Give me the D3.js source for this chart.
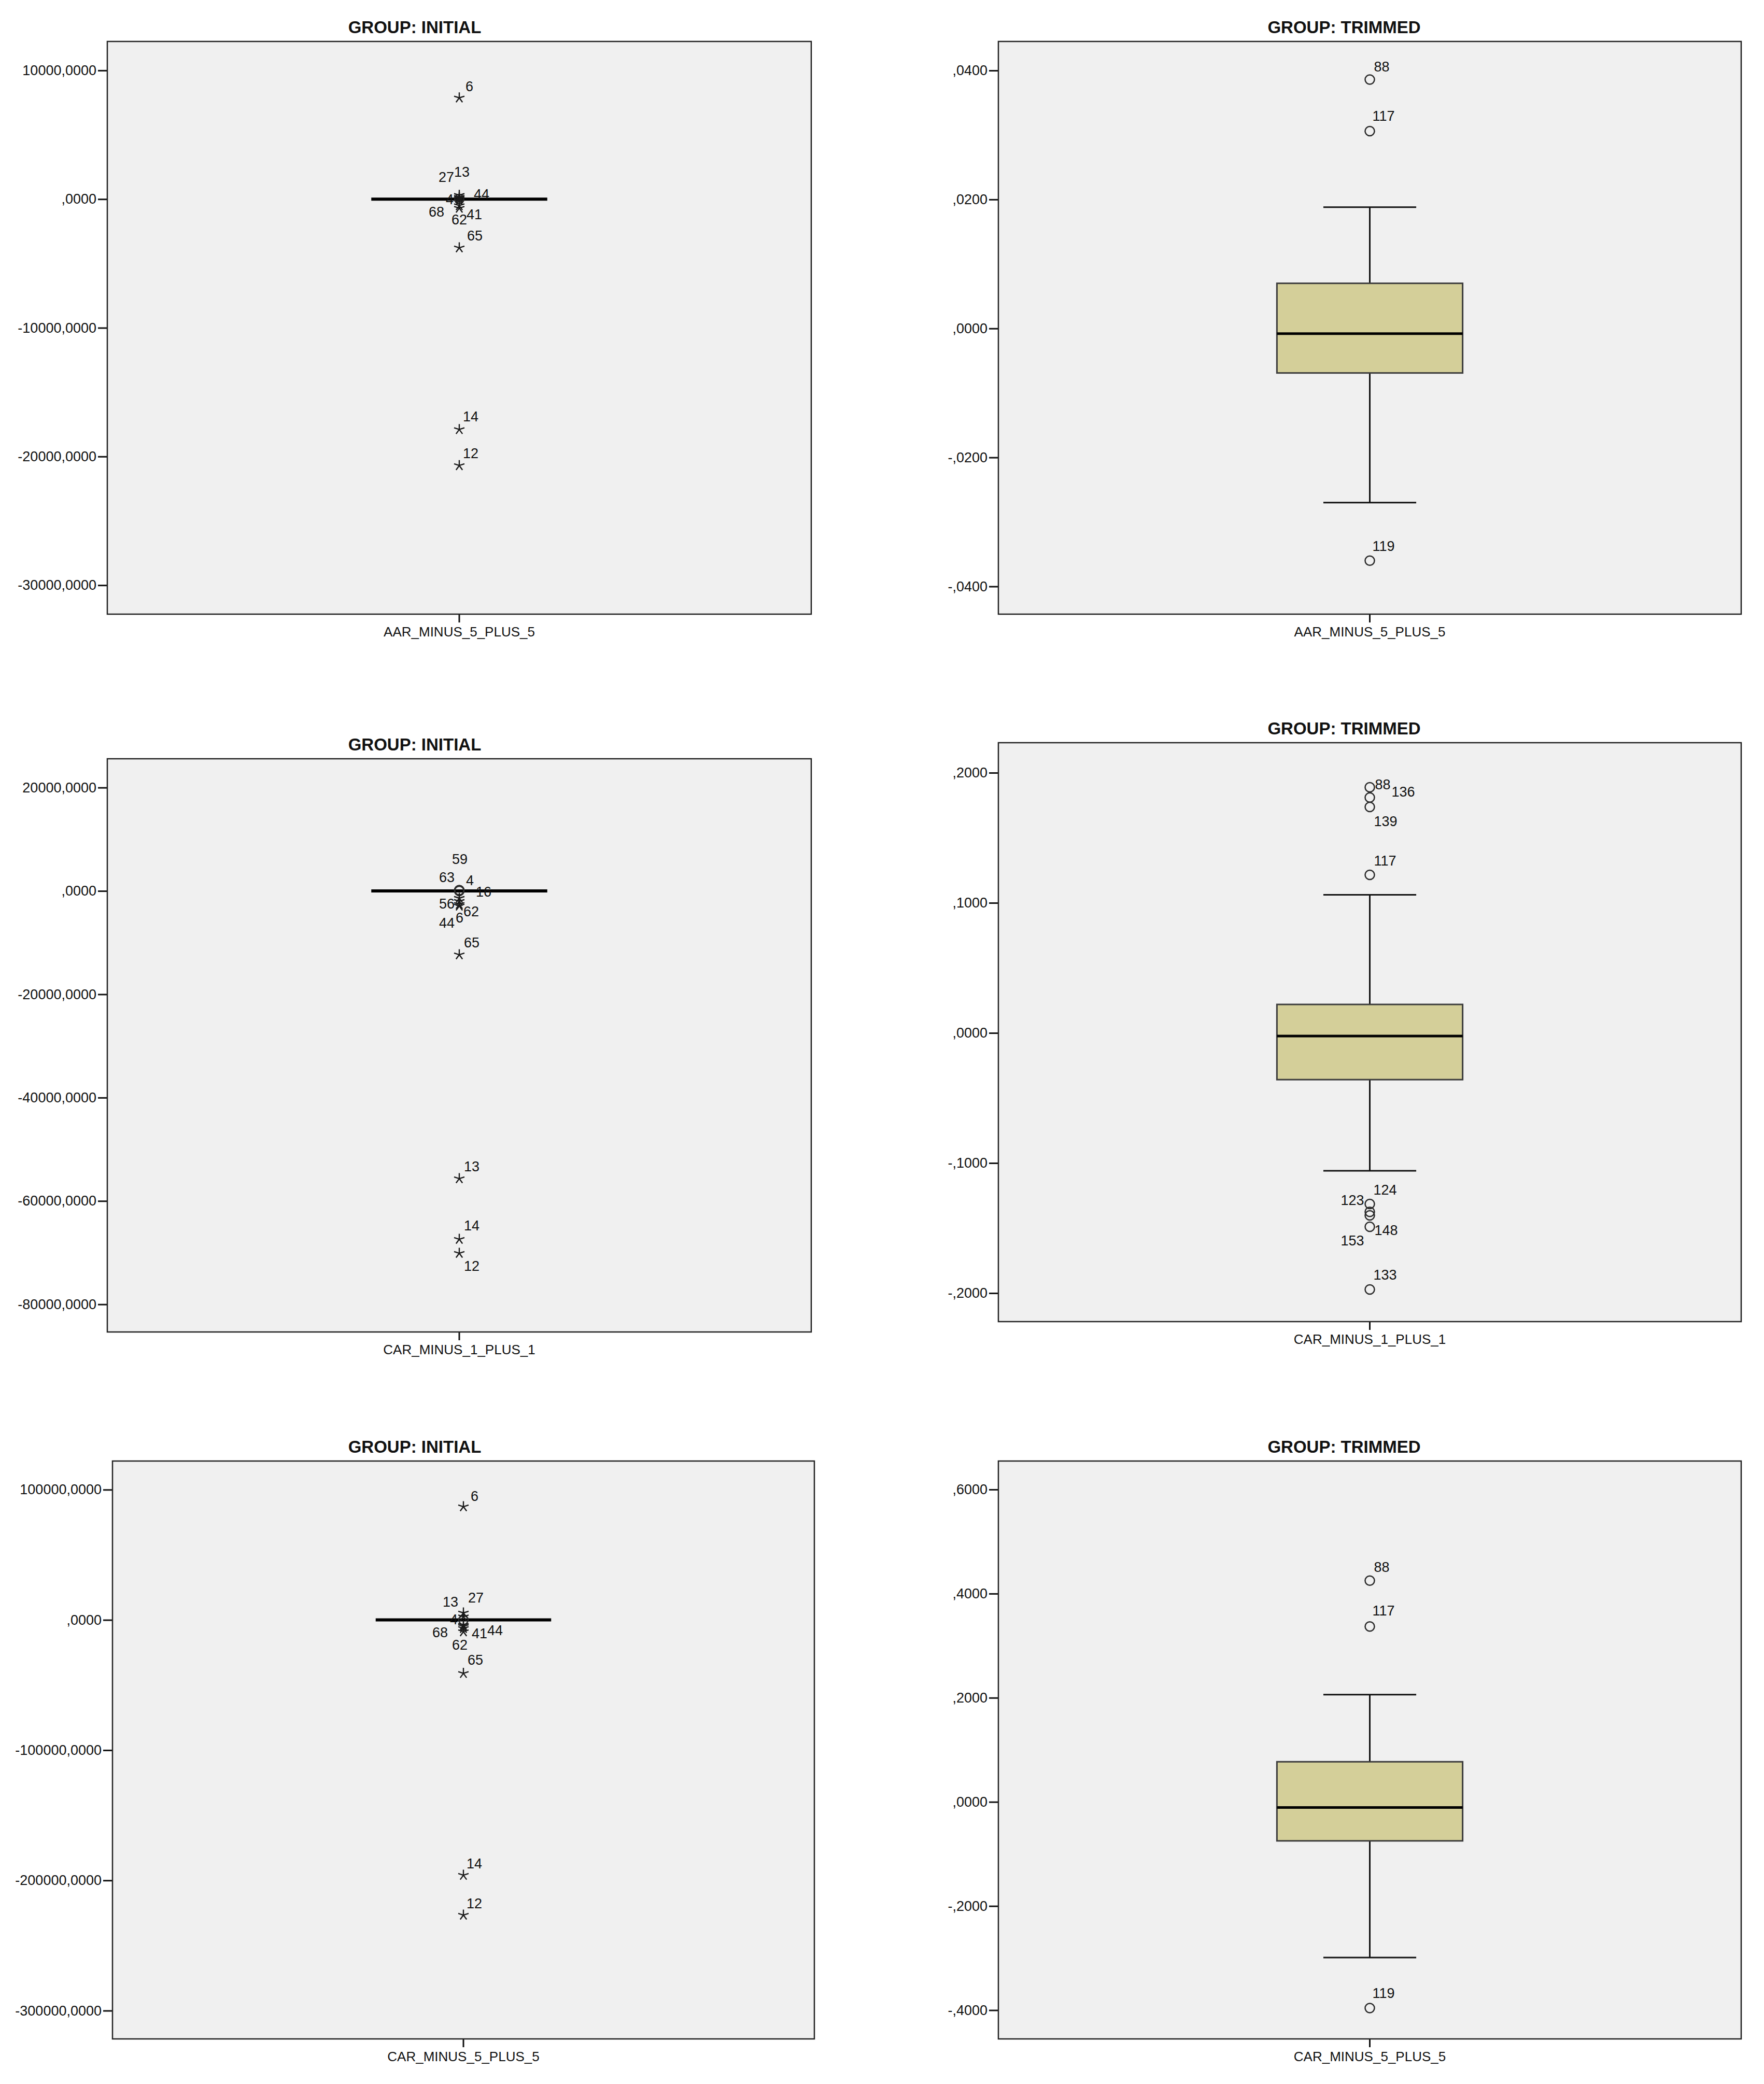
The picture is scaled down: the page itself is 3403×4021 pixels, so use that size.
<!DOCTYPE html>
<html><head><meta charset="utf-8">
<script src="https://cdn.jsdelivr.net/npm/d3@7"></script>
<style>
body{margin:0;background:#fff}
svg{display:block}
text{font-family:"Liberation Sans",Arial,sans-serif;fill:#111}
</style>
</head><body>
<svg id="chart" width="3403" height="4021"></svg>
<script>
// ---------------- data ----------------
const variables = ["AAR_MINUS_5_PLUS_5", "CAR_MINUS_1_PLUS_1", "CAR_MINUS_5_PLUS_5"];
const groupTitles = ["GROUP: INITIAL", "GROUP: TRIMMED"];

// box statistics: [lower whisker, Q1, median, Q3, upper whisker]
const aarInitialBox  = [0, 0, 0, 0, 0];
const aarTrimmedBox  = [-0.0270, -0.0069, -0.0008, 0.0070, 0.0188];
const car1InitialBox = [0, 0, 0, 0, 0];
const car1TrimmedBox = [-0.1060, -0.0359, -0.0024, 0.0219, 0.1062];
const car5InitialBox = [0, 0, 0, 0, 0];
const car5TrimmedBox = [-0.2988, -0.0748, -0.0107, 0.0771, 0.2060];

// outlying cases: case id, value, kind ("o" outlier, "*" extreme)
const aarInitialPts = [
  {id:"6", v:7870, k:"*"}, {id:"13", v:300, k:"*"}, {id:"27", v:150, k:"*"},
  {id:"44", v:60, k:"*"}, {id:"4", v:0, k:"o"}, {id:"68", v:-100, k:"*"},
  {id:"41", v:-500, k:"*"}, {id:"62", v:-700, k:"*"}, {id:"65", v:-3780, k:"*"},
  {id:"14", v:-17900, k:"*"}, {id:"12", v:-20700, k:"*"}
];
const aarTrimmedPts = [
  {id:"88", v:0.0386, k:"o"}, {id:"117", v:0.0306, k:"o"}, {id:"119", v:-0.0360, k:"o"}
];
const car1InitialPts = [
  {id:"59", v:150, k:"o"}, {id:"63", v:100, k:"o"}, {id:"4", v:50, k:"o"},
  {id:"16", v:0, k:"o"}, {id:"56", v:-1400, k:"*"}, {id:"62", v:-2000, k:"*"},
  {id:"6", v:-2600, k:"*"}, {id:"44", v:-2900, k:"*"}, {id:"65", v:-12340, k:"*"},
  {id:"13", v:-55670, k:"*"}, {id:"14", v:-67400, k:"*"}, {id:"12", v:-70110, k:"*"}
];
const car1TrimmedPts = [
  {id:"88", v:0.1888, k:"o"}, {id:"136", v:0.1810, k:"o"}, {id:"139", v:0.1737, k:"o"},
  {id:"117", v:0.1215, k:"o"}, {id:"124", v:-0.1315, k:"o"}, {id:"123", v:-0.1375, k:"o"},
  {id:"153", v:-0.1402, k:"o"}, {id:"148", v:-0.1490, k:"o"}, {id:"133", v:-0.1972, k:"o"}
];
const car5InitialPts = [
  {id:"6", v:86950, k:"*"}, {id:"27", v:5400, k:"*"}, {id:"13", v:2500, k:"*"},
  {id:"4", v:0, k:"o"}, {id:"68", v:-4000, k:"*"}, {id:"44", v:-5000, k:"*"},
  {id:"41", v:-6500, k:"*"}, {id:"62", v:-9000, k:"*"}, {id:"65", v:-41000, k:"*"},
  {id:"14", v:-196000, k:"*"}, {id:"12", v:-226600, k:"*"}
];
const car5TrimmedPts = [
  {id:"88", v:0.4250, k:"o"}, {id:"117", v:0.3370, k:"o"}, {id:"119", v:-0.3960, k:"o"}
];

// axis tick values and value ranges
const aarInitialTicks  = [10000, 0, -10000, -20000, -30000];
const aarTrimmedTicks  = [0.04, 0.02, 0, -0.02, -0.04];
const car1InitialTicks = [20000, 0, -20000, -40000, -60000, -80000];
const car1TrimmedTicks = [0.2, 0.1, 0, -0.1, -0.2];
const car5InitialTicks = [100000, 0, -100000, -200000, -300000];
const car5TrimmedTicks = [0.6, 0.4, 0.2, 0, -0.2, -0.4];

const aarInitialDomain  = [-32250, 12250];
const aarTrimmedDomain  = [-0.0443, 0.0445];
const car1InitialDomain = [-85350, 25580];
const car1TrimmedDomain = [-0.2219, 0.2231];
const car5InitialDomain = [-321700, 122000];
const car5TrimmedDomain = [-0.4552, 0.6547];

// ---------------- layout (label placement nudges, px: [start dx, centre dy]) ----------------
const defaultNudge = [8, -25];
const aarInitialNudge = {"6":[12,-22], "13":[-10,-45], "27":[-40,-39], "44":[28,-8], "4":[-26,0],
  "68":[-59,22], "41":[14,17], "62":[-15,22], "65":[15,-24], "14":[7,-25], "12":[7,-24]};
const aarTrimmedNudge = {"88":[8,-25], "117":[5,-30], "119":[5,-28]};
const car1InitialNudge = {"59":[-14,-60], "63":[-39,-26], "4":[13,-20], "16":[32,1], "56":[-39,10],
  "62":[8,19], "6":[-7,25], "44":[-39,32], "65":[9,-24], "13":[9,-24], "14":[9,-27], "12":[9,24]};
const car1TrimmedNudge = {"88":[10,-6], "136":[42,-11], "139":[8,27], "117":[8,-28], "124":[7,-28],
  "123":[-56,-23], "153":[-56,48], "148":[9,6], "133":[7,-29]};
const car5InitialNudge = {"6":[14,-21], "27":[9,-30], "13":[-40,-29], "4":[-26,-1], "68":[-60,14],
  "44":[46,7], "41":[16,9], "62":[-22,25], "65":[8,-26], "14":[6,-23], "12":[6,-23]};
const car5TrimmedNudge = {"88":[8,-26], "117":[5,-31], "119":[5,-29]};

const panels = [
  {g:0, v:0, box:aarInitialBox,  pts:aarInitialPts,  ticks:aarInitialTicks,  dom:aarInitialDomain,  nudge:aarInitialNudge,  x0:207,  x1:1565, y0:80,   y1:1185, tx:800},
  {g:1, v:0, box:aarTrimmedBox,  pts:aarTrimmedPts,  ticks:aarTrimmedTicks,  dom:aarTrimmedDomain,  nudge:aarTrimmedNudge,  x0:1926, x1:3359, y0:80,   y1:1185, tx:2593},
  {g:0, v:1, box:car1InitialBox, pts:car1InitialPts, ticks:car1InitialTicks, dom:car1InitialDomain, nudge:car1InitialNudge, x0:207,  x1:1565, y0:1464, y1:2570, tx:800},
  {g:1, v:1, box:car1TrimmedBox, pts:car1TrimmedPts, ticks:car1TrimmedTicks, dom:car1TrimmedDomain, nudge:car1TrimmedNudge, x0:1926, x1:3359, y0:1433, y1:2550, tx:2593},
  {g:0, v:2, box:car5InitialBox, pts:car5InitialPts, ticks:car5InitialTicks, dom:car5InitialDomain, nudge:car5InitialNudge, x0:217,  x1:1571, y0:2819, y1:3934, tx:800},
  {g:1, v:2, box:car5TrimmedBox, pts:car5TrimmedPts, ticks:car5TrimmedTicks, dom:car5TrimmedDomain, nudge:car5TrimmedNudge, x0:1926, x1:3359, y0:2819, y1:3934, tx:2593}
];

// SPSS-like number format: 4 decimals, comma decimal sign, no leading zero, ASCII minus
const f4 = d3.formatLocale({decimal: ".", thousands: "", grouping: [3], currency: ["", ""], minus: "-"}).format(".4f");
function spssFmt(d) {
  let s = f4(Math.abs(d) < 1e-12 ? 0 : d);
  s = s.replace(/^(-?)0\./, "$1.");
  return s.replace(".", ",");
}

// asterisk marker (5 spokes)
function starPath(r) {
  let p = "";
  for (let i = 0; i < 5; i++) {
    const a = -Math.PI / 2 + i * 2 * Math.PI / 5;
    p += `M0,0L${(r * Math.cos(a)).toFixed(2)},${(r * Math.sin(a)).toFixed(2)}`;
  }
  return p;
}

const svg = d3.select("#chart");
svg.append("rect").attr("width", 3403).attr("height", 4021).attr("fill", "#ffffff");

panels.forEach(P => {
  const g = svg.append("g");
  const variable = variables[P.v];
  const y = d3.scaleLinear().domain(P.dom).range([P.y1, P.y0]);
  const x = d3.scaleBand().domain([variable]).range([P.x0, P.x1]).paddingInner(0).paddingOuter(1.5);
  const cx = x(variable) + x.bandwidth() / 2;
  const bw = x.bandwidth();

  // plot background
  g.append("rect").attr("x", P.x0).attr("y", P.y0)
    .attr("width", P.x1 - P.x0).attr("height", P.y1 - P.y0)
    .attr("fill", "#f0f0f0");

  // title
  g.append("text").attr("x", P.tx).attr("y", P.y0 - 16)
    .attr("text-anchor", "middle").attr("font-size", 33).attr("font-weight", "bold")
    .text(groupTitles[P.g]);

  // y axis
  const ya = g.append("g").attr("transform", `translate(${P.x0},0)`)
    .call(d3.axisLeft(y).tickValues(P.ticks).tickFormat(spssFmt).tickSize(18).tickPadding(3));
  ya.select(".domain").remove();
  ya.selectAll(".tick line").attr("stroke", "#111").attr("stroke-width", 3);
  ya.selectAll(".tick text").attr("font-size", 27).attr("fill", "#111")
    .attr("font-family", "'Liberation Sans', Arial, sans-serif");

  // x axis
  const xa = g.append("g").attr("transform", `translate(0,${P.y1})`)
    .call(d3.axisBottom(x).tickSize(16).tickPadding(9));
  xa.select(".domain").remove();
  xa.selectAll(".tick line").attr("stroke", "#111").attr("stroke-width", 3);
  xa.selectAll(".tick text").attr("font-size", 26).attr("fill", "#111")
    .attr("font-family", "'Liberation Sans', Arial, sans-serif");

  // box plot
  const [lo, q1, med, q3, hi] = P.box;
  const wh = g.append("g").attr("stroke", "#111").attr("stroke-width", 3);
  wh.append("line").attr("x1", cx).attr("x2", cx).attr("y1", y(q3)).attr("y2", y(hi));
  wh.append("line").attr("x1", cx).attr("x2", cx).attr("y1", y(q1)).attr("y2", y(lo));
  wh.append("line").attr("x1", cx - bw / 4).attr("x2", cx + bw / 4).attr("y1", y(hi)).attr("y2", y(hi));
  wh.append("line").attr("x1", cx - bw / 4).attr("x2", cx + bw / 4).attr("y1", y(lo)).attr("y2", y(lo));
  if (q3 > q1) {
    g.append("rect").attr("x", x(variable)).attr("y", y(q3))
      .attr("width", bw).attr("height", y(q1) - y(q3))
      .attr("fill", "#d4cf99").attr("stroke", "#3c3c3c").attr("stroke-width", 3);
  }
  g.append("line").attr("x1", x(variable)).attr("x2", x(variable) + bw)
    .attr("y1", y(med)).attr("y2", y(med))
    .attr("stroke", "#000").attr("stroke-width", q3 > q1 ? 5 : 6);

  // outlier markers
  const mk = g.append("g");
  mk.selectAll("circle").data(P.pts.filter(d => d.k === "o")).join("circle")
    .attr("cx", cx).attr("cy", d => y(d.v)).attr("r", 9)
    .attr("fill", "none").attr("stroke", "#2a2a2a").attr("stroke-width", 2.5);
  mk.selectAll("path").data(P.pts.filter(d => d.k === "*")).join("path")
    .attr("transform", d => `translate(${cx},${y(d.v)})`)
    .attr("d", starPath(10.5))
    .attr("fill", "none").attr("stroke", "#1a1a1a").attr("stroke-width", 2.4);

  // case labels
  g.append("g").selectAll("text").data(P.pts).join("text")
    .attr("x", d => cx + (P.nudge[d.id] || defaultNudge)[0])
    .attr("y", d => y(d.v) + (P.nudge[d.id] || defaultNudge)[1])
    .attr("dy", "0.36em")
    .attr("font-size", 27)
    .text(d => d.id);

  // frame
  g.append("rect").attr("x", P.x0).attr("y", P.y0)
    .attr("width", P.x1 - P.x0).attr("height", P.y1 - P.y0)
    .attr("fill", "none").attr("stroke", "#222").attr("stroke-width", 2.5);
});
</script>
</body></html>
